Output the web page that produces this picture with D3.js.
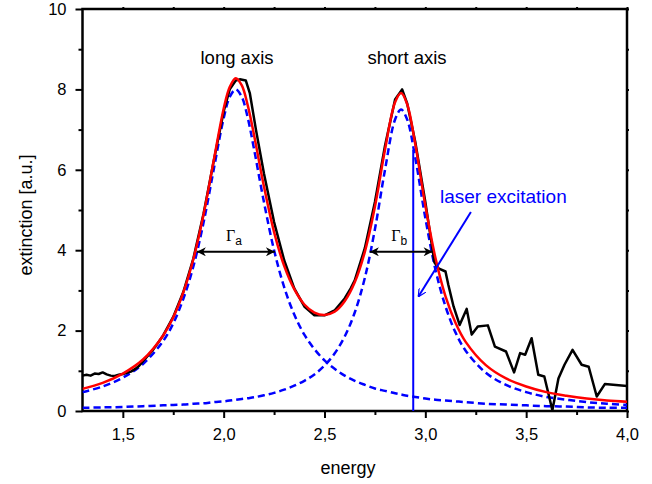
<!DOCTYPE html>
<html>
<head>
<meta charset="utf-8">
<script src="https://cdn.jsdelivr.net/npm/d3@7"></script>
<style>
  body { margin: 0; background: #fff; }
  text { font-family: "Liberation Sans", Arial, sans-serif; }
</style>
</head>
<body>
<svg id="chart" width="652" height="484"></svg>
<script>
var fitEnergy = [1.3, 1.4, 1.5, 1.6, 1.7, 1.75, 1.8, 1.85, 1.9, 1.95, 2.0, 2.03, 2.06, 2.09, 2.12, 2.15, 2.2, 2.25, 2.3, 2.35, 2.4, 2.45, 2.5, 2.55, 2.6, 2.65, 2.7, 2.75, 2.8, 2.85, 2.88, 2.91, 2.95, 3.0, 3.05, 3.1, 3.15, 3.2, 3.3, 3.4, 3.5, 3.6, 3.7, 3.8, 3.9, 4.0];
var longAxisFit = [0.47, 0.61, 0.83, 1.17, 1.74, 2.18, 2.79, 3.60, 4.68, 5.99, 7.28, 7.81, 8.00, 7.81, 7.28, 6.53, 5.19, 4.00, 3.08, 2.40, 1.90, 1.54, 1.26, 1.05, 0.88, 0.75, 0.65, 0.56, 0.50, 0.44, 0.41, 0.38, 0.35, 0.31, 0.28, 0.26, 0.24, 0.22, 0.18, 0.16, 0.14, 0.12, 0.11, 0.09, 0.08, 0.08];
var shortAxisFit = [0.08, 0.09, 0.10, 0.12, 0.14, 0.15, 0.16, 0.18, 0.19, 0.22, 0.24, 0.26, 0.28, 0.30, 0.32, 0.34, 0.39, 0.45, 0.53, 0.63, 0.75, 0.91, 1.13, 1.43, 1.85, 2.45, 3.31, 4.52, 6.00, 7.25, 7.50, 7.25, 6.30, 4.80, 3.52, 2.60, 1.95, 1.50, 0.95, 0.65, 0.47, 0.35, 0.28, 0.22, 0.18, 0.15];
var sumFit = [0.55, 0.70, 0.93, 1.28, 1.88, 2.33, 2.95, 3.78, 4.88, 6.21, 7.52, 8.06, 8.28, 8.10, 7.59, 6.88, 5.58, 4.45, 3.61, 3.03, 2.65, 2.45, 2.39, 2.47, 2.73, 3.20, 3.96, 5.08, 6.50, 7.68, 7.91, 7.63, 6.64, 5.11, 3.81, 2.85, 2.19, 1.72, 1.14, 0.81, 0.61, 0.47, 0.38, 0.31, 0.26, 0.23];

// measured spectrum
var dataEnergy = [1.30, 1.32, 1.34, 1.36, 1.38, 1.40, 1.42, 1.44, 1.46, 1.48, 1.50, 1.52, 1.54, 1.56, 1.58, 1.60, 1.65, 1.70, 1.75, 1.80, 1.85, 1.90, 1.95, 2.00, 2.03, 2.06, 2.08, 2.11, 2.13, 2.16, 2.20, 2.25, 2.30, 2.35, 2.40, 2.45, 2.50, 2.55, 2.60, 2.63, 2.65, 2.70, 2.75, 2.80, 2.85, 2.885, 2.91, 2.95, 3.00, 3.03, 3.045, 3.065, 3.10, 3.114, 3.14, 3.17, 3.205, 3.23, 3.26, 3.31, 3.345, 3.40, 3.44, 3.47, 3.495, 3.527, 3.56, 3.59, 3.63, 3.66, 3.69, 3.73, 3.775, 3.81, 3.85, 3.89, 4.00];
var measured = [0.88, 0.90, 0.88, 0.93, 0.92, 0.96, 0.91, 0.88, 0.87, 0.90, 0.92, 0.95, 0.98, 1.04, 1.12, 1.24, 1.52, 1.88, 2.34, 2.96, 3.80, 4.90, 6.20, 7.45, 8.00, 8.22, 8.25, 8.22, 7.90, 7.00, 5.90, 4.70, 3.75, 3.05, 2.60, 2.38, 2.38, 2.50, 2.80, 3.05, 3.25, 4.05, 5.20, 6.60, 7.75, 8.00, 7.65, 6.70, 5.20, 4.20, 3.70, 3.55, 3.47, 3.14, 2.60, 2.14, 2.54, 1.90, 2.10, 2.13, 1.60, 1.48, 0.96, 1.44, 1.40, 1.81, 0.90, 0.86, 0.02, 0.81, 1.15, 1.52, 1.15, 1.10, 0.36, 0.67, 0.62];

var xTicks = [1.5, 2.0, 2.5, 3.0, 3.5, 4.0];
var xMinor = [1.75, 2.25, 2.75, 3.25, 3.75];
var yTicks = [0, 2, 4, 6, 8, 10];
var yMinor = [1, 3, 5, 7, 9];

// annotations
var gammaA = [1.867, 2.254];
var gammaB = [2.725, 3.036];
var gammaLevel = 3.96;
var laserEnergy = 2.94;
var laserTop = 6.5;
var laserArrow = [[3.226, 4.95], [2.965, 2.84]];

var svg = d3.select("#chart");
var x = d3.scaleLinear().domain([1.3, 4.0]).range([82.5, 627]);
var y = d3.scaleLinear().domain([0, 10]).range([411, 9]);

var defs = svg.append("defs");
defs.append("marker").attr("id", "blackhead")
  .attr("viewBox", "0 0 10 10").attr("refX", 10).attr("refY", 5)
  .attr("markerWidth", 5.5).attr("markerHeight", 4.5).attr("orient", "auto-start-reverse")
  .attr("markerUnits", "strokeWidth")
  .append("path").attr("d", "M0,0 L10,5 L0,10 L3,5 z").attr("fill", "black");
defs.append("marker").attr("id", "bluehead")
  .attr("viewBox", "0 0 10 10").attr("refX", 10).attr("refY", 5)
  .attr("markerWidth", 4).attr("markerHeight", 4).attr("orient", "auto")
  .attr("markerUnits", "strokeWidth")
  .append("path").attr("d", "M0,0 L10,5 L0,10").attr("fill", "none").attr("stroke", "blue").attr("stroke-width", 1.5);

// clip so curves stay inside the frame
defs.append("clipPath").attr("id", "plotclip")
  .append("rect").attr("x", x(1.3)).attr("y", y(10)).attr("width", x(4.0) - x(1.3)).attr("height", y(0) - y(10));

var comma = function (d) { return d3.format(".1f")(d).replace(".", ","); };

// bottom axis
var gx = svg.append("g").attr("transform", "translate(0," + y(0) + ")");
gx.call(d3.axisBottom(x).tickValues(xTicks).tickSize(7).tickPadding(10).tickFormat(comma));
gx.append("g").call(d3.axisBottom(x).tickValues(xMinor).tickSize(4).tickFormat(""));

// left axis
var gy = svg.append("g").attr("transform", "translate(" + x(1.3) + ",0)");
gy.call(d3.axisLeft(y).tickValues(yTicks).tickSize(7).tickPadding(9).tickFormat(d3.format("d")));
gy.append("g").call(d3.axisLeft(y).tickValues(yMinor).tickSize(4).tickFormat(""));

// mirrored ticks on top and right
svg.append("g").attr("transform", "translate(0," + y(10) + ")")
  .call(d3.axisTop(x).tickValues(xTicks.concat(xMinor)).tickSize(2).tickFormat(""));
svg.append("g").attr("transform", "translate(" + x(4.0) + ",0)")
  .call(d3.axisRight(y).tickValues(yTicks.concat(yMinor)).tickSize(2).tickFormat(""));

svg.selectAll(".domain").remove();
svg.selectAll(".tick line").attr("stroke", "black").attr("stroke-width", 2);
svg.selectAll(".tick text").style("font-size", "16.5px").attr("fill", "black");

// frame
svg.append("rect")
  .attr("x", x(1.3)).attr("y", y(10))
  .attr("width", x(4.0) - x(1.3)).attr("height", y(0) - y(10))
  .attr("fill", "none").attr("stroke", "black").attr("stroke-width", 2.5);

var plot = svg.append("g").attr("clip-path", "url(#plotclip)");

var smooth = d3.line()
  .x(function (d) { return x(d[0]); })
  .y(function (d) { return y(d[1]); })
  .curve(d3.curveCatmullRom.alpha(0.5));
var straight = d3.line()
  .x(function (d) { return x(d[0]); })
  .y(function (d) { return y(d[1]); });

[longAxisFit, shortAxisFit].forEach(function (s) {
  plot.append("path")
    .datum(d3.zip(fitEnergy, s))
    .attr("d", smooth)
    .attr("fill", "none").attr("stroke", "#0000ff")
    .attr("stroke-width", 2.5).attr("stroke-dasharray", "7,4");
});

plot.append("path")
  .datum(d3.zip(dataEnergy, measured))
  .attr("d", straight)
  .attr("fill", "none").attr("stroke", "black").attr("stroke-width", 2.5)
  .attr("stroke-linejoin", "round");

plot.append("path")
  .datum(d3.zip(fitEnergy, sumFit))
  .attr("d", smooth)
  .attr("fill", "none").attr("stroke", "#ff0000").attr("stroke-width", 2.5);

// laser line + arrow
svg.append("line")
  .attr("x1", x(laserEnergy)).attr("x2", x(laserEnergy))
  .attr("y1", y(0)).attr("y2", y(laserTop))
  .attr("stroke", "#0000ff").attr("stroke-width", 2);
svg.append("line")
  .attr("x1", x(laserArrow[0][0])).attr("y1", y(laserArrow[0][1]))
  .attr("x2", x(laserArrow[1][0])).attr("y2", y(laserArrow[1][1]))
  .attr("stroke", "#0000ff").attr("stroke-width", 2)
  .attr("marker-end", "url(#bluehead)");
svg.append("text")
  .attr("x", 440).attr("y", 203)
  .attr("fill", "#0000ff").style("font-size", "19px")
  .text("laser excitation");

// width arrows
[[gammaA, "a"], [gammaB, "b"]].forEach(function (g) {
  svg.append("line")
    .attr("x1", x(g[0][0])).attr("x2", x(g[0][1]))
    .attr("y1", y(gammaLevel)).attr("y2", y(gammaLevel))
    .attr("stroke", "black").attr("stroke-width", 2)
    .attr("marker-start", "url(#blackhead)").attr("marker-end", "url(#blackhead)");
  var t = svg.append("text")
    .attr("x", (x(g[0][0]) + x(g[0][1])) / 2 - 2).attr("y", y(gammaLevel) - 11)
    .attr("text-anchor", "middle")
    .style("font-family", "'Liberation Serif', 'DejaVu Serif', serif").style("font-size", "16px");
  t.append("tspan").text("\u0393");
  t.append("tspan").attr("dy", 4).style("font-size", "12px")
    .style("font-family", "'Liberation Sans', Arial, sans-serif").text(g[1]);
});

// peak labels
svg.append("text").attr("x", 237).attr("y", 64).attr("text-anchor", "middle")
  .style("font-size", "18.5px").text("long axis");
svg.append("text").attr("x", 407).attr("y", 64).attr("text-anchor", "middle")
  .style("font-size", "18.5px").text("short axis");

// axis titles
svg.append("text").attr("x", 348).attr("y", 474).attr("text-anchor", "middle")
  .style("font-size", "18px").text("energy");
svg.append("text")
  .attr("transform", "translate(32,215) rotate(-90)")
  .attr("text-anchor", "middle")
  .style("font-size", "18px").text("extinction [a.u.]");
</script>
</body>
</html>
